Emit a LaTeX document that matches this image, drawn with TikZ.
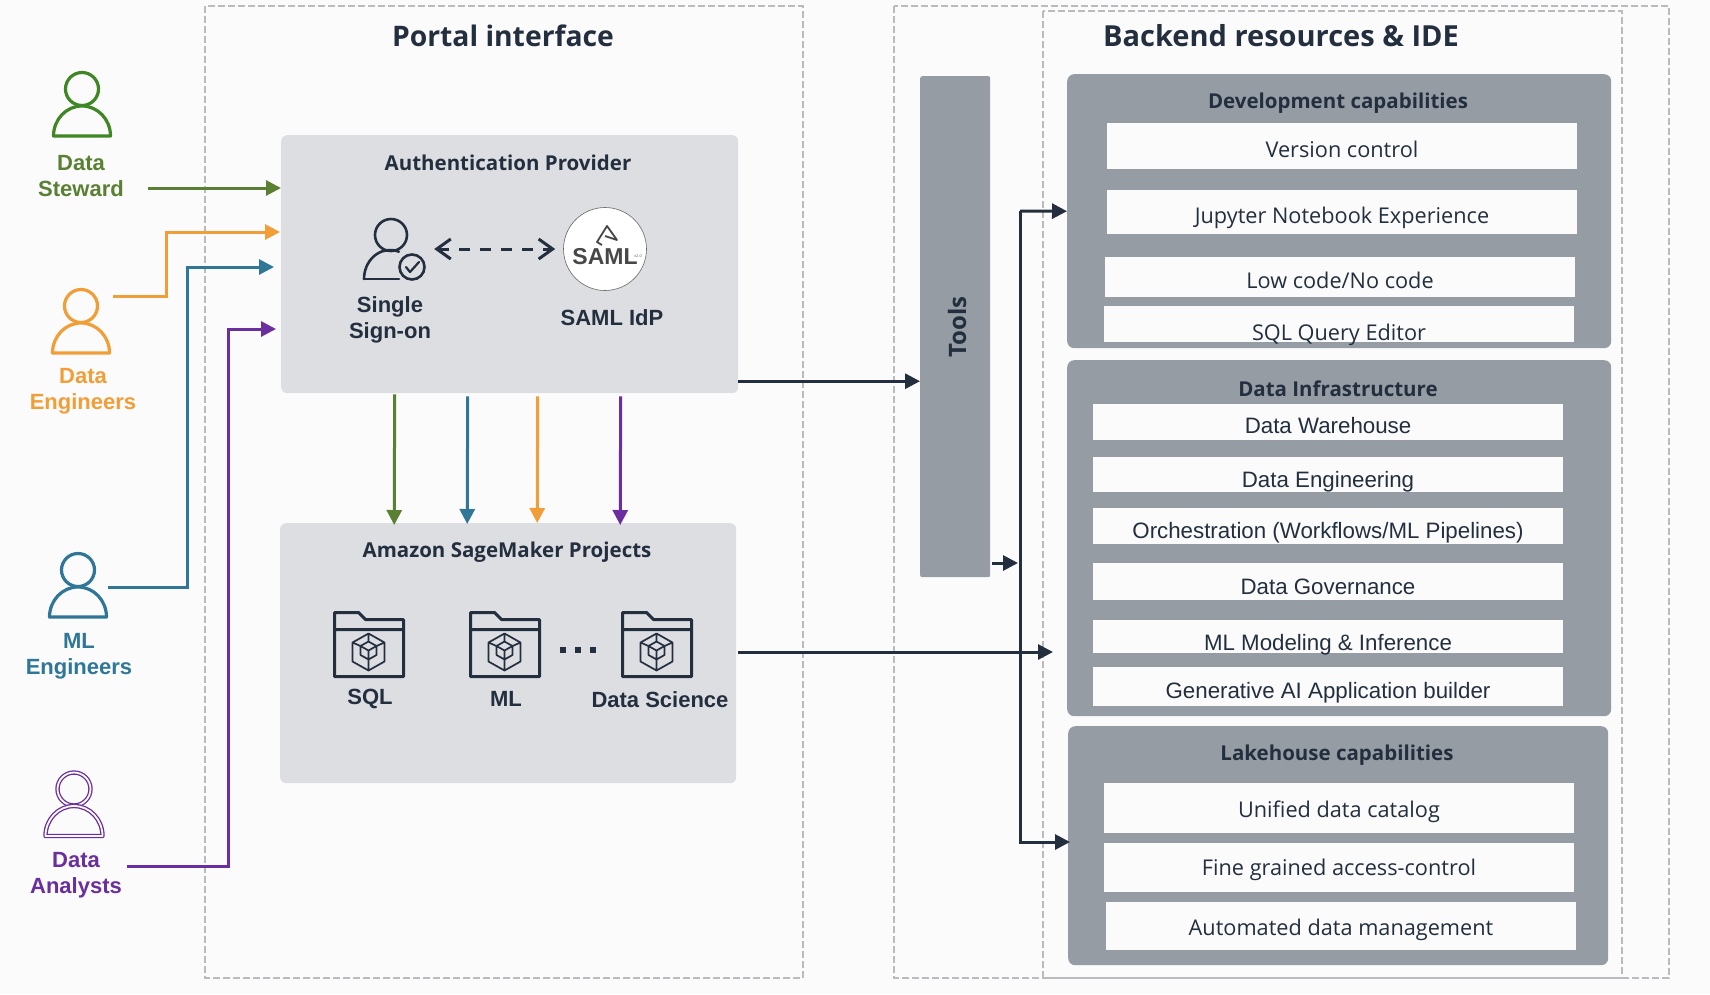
\documentclass[tikz,border=0pt]{standalone}
\usepackage{fontspec}
\setmainfont{Open Sans}
\newfontfamily\labelfont{Liberation Sans}
\usetikzlibrary{arrows.meta,positioning}
\definecolor{pagebg}{HTML}{FBFBFB}
\definecolor{inkdark}{HTML}{232F3E}
\definecolor{dashgray}{HTML}{B9BBBE}
\definecolor{softgray}{HTML}{DDDEE2}
\definecolor{slategray}{HTML}{969CA4}
\definecolor{stewardgreen}{HTML}{5A8033}
\definecolor{icongreen}{HTML}{3F8624}
\definecolor{iconorange}{HTML}{F29E38}
\definecolor{mlblue}{HTML}{2F7697}
\definecolor{analystpurple}{HTML}{6A2E9E}
\newcommand{\dropped}[2]{\raisebox{-#1pt}[0pt][0pt]{#2}}
\tikzset{
  zone/.style={draw=dashgray, line width=1.6pt, dash pattern=on 7pt off 3pt},
  panel/.style={rounded corners=6pt, fill=softgray, anchor=north west},
  slatepanel/.style={rounded corners=7pt, fill=slategray, anchor=north west},
  rowbox/.style={fill=pagebg, minimum width=470pt, font=\fontsize{21.7}{25}\selectfont, text=inkdark, inner sep=0pt},
  inforow/.style={rowbox, font=\labelfont\fontsize{22.3}{25}\selectfont},
  heading/.style={font=\fontsize{20.5}{25}\selectfont\bfseries, text=inkdark},
  bigtitle/.style={font=\fontsize{28.3}{36}\selectfont\bfseries, text=inkdark},
  tag/.style={font=\labelfont\fontsize{22}{26}\selectfont\bfseries, align=center},
  arrow/.style={-{Triangle[length=15pt,width=15pt]}, line width=3pt, draw=inkdark},
  personline/.style={line width=3.2pt},
  person/.pic={
    \draw[personline, line join=round] (0,-47) circle[radius=16.5pt];
    \draw[personline, line join=round] (-28.5,0) arc[start angle=180, end angle=0, x radius=28.5pt, y radius=30pt] -- cycle;
  },
  folder/.pic={
    \draw[inkdark, line width=3pt, line join=round] (0,64) -- (0,0) -- (24,0) -- (31,7) -- (69,7) -- (69,64) -- cycle (0,17) -- (69,17);
    \draw[inkdark, line width=1.7pt, line join=round] (34,21) -- (50,30) -- (50,49) -- (34,58) -- (18,49) -- (18,30) -- cycle
      (34,29) -- (42,33.5) -- (42,42.5) -- (34,47) -- (26,42.5) -- (26,33.5) -- cycle
      (34,38) -- (42,33.5) (34,38) -- (26,33.5) (34,38) -- (34,58) (34,21) -- (34,29) (50,30) -- (42,33.5) (18,30) -- (26,33.5);
  }
}
\begin{document}
\begin{tikzpicture}[x=1pt, y=-1pt]
  \fill[pagebg] (0,0) rectangle (1710,994);
  \useasboundingbox (0,0) rectangle (1710,994);
  % dashed zones
  \draw[zone] (205,6) rectangle (803,978);
  \draw[zone] (894,6) rectangle (1669,978);
  \draw[zone] (1043,11) rectangle (1622,978);
  \node[bigtitle] (portaltitle) at (503,36) {Portal interface};
  \node[bigtitle, font=\fontsize{29}{36}\selectfont\bfseries] (backendtitle) at (1281,36) {Backend resources \& IDE};
  % people
  \pic[icongreen] at (82,136) {person};
  \pic[iconorange] at (81,353) {person};
  \pic[mlblue] at (78,617) {person};
  \pic[analystpurple, personline/.style={line width=1.3pt, double=pagebg, double distance=1.8pt}] at (74,836) {person};
  \node[tag, text=stewardgreen] (steward) at (81,176) {Data\\Steward};
  \node[tag, text=iconorange] (engineers) at (83,391) {Data\\Engineers};
  \node[tag, text=mlblue] (mleng) at (79,656) {ML\\Engineers};
  \node[tag, text=analystpurple] (analysts) at (76,875) {Data\\Analysts};
  % left panels
  \node[panel, minimum width=457pt, minimum height=258pt] (auth) at (281,135) {};
  \node[panel, minimum width=456pt, minimum height=260pt] (sage) at (280,523) {};
  \node[heading] (authtitle) at (508,163) {Authentication Provider};
  \node[heading] (sagetitle) at (507,552) {Amazon SageMaker Projects};
  \node[minimum width=70pt, minimum height=80pt, inner sep=0pt] (ssoicon) at (399,249) {};
  \draw[inkdark, line width=2.6pt] (391,235) circle[radius=16pt];
  \draw[inkdark, line width=2.6pt, line cap=round] (364,279) arc[start angle=180, end angle=70, x radius=26pt, y radius=29pt];
  \draw[inkdark, line width=2.6pt, line cap=round] (364,279) -- (399,279);
  \draw[inkdark, line width=2.6pt] (412,267) circle[radius=12.5pt];
  \draw[inkdark, line width=2.2pt, line cap=round, line join=round] (406,267) -- (410,272) -- (419,262);
  \node[tag, text=inkdark] (sso) at (390,320) {Single\\Sign-on};
  \node[circle, fill=white, draw=black!60, line width=0.6pt, minimum size=83pt, inner sep=0pt] (saml) at (605,249) {};
  \node[font=\labelfont\fontsize{23}{25}\selectfont\bfseries, text=black!72, inner sep=0pt] (samltext) at (605,257) {SAML};
  \node[font=\labelfont\fontsize{4}{4}\selectfont, text=black!60, inner sep=0pt] (samlver) at (638,256) {v2.0};
  \draw[black!72, line width=1.8pt, line join=round] (602,245) -- (597,242) -- (607,226) -- (617,240) -- (605,236);
  \node[tag, text=inkdark] (samlidp) at (612,318) {SAML IdP};
  \draw[inkdark, line width=3pt, dash pattern=on 11pt off 10pt, {Straight Barb[length=14pt,width=20pt]}-{Straight Barb[length=14pt,width=20pt]}, shorten >=8pt] (ssoicon.east) -- (saml.west);
  % projects
  \foreach \fx/\fname in {334.5/sqlfolder, 470.5/mlfolder, 622.5/dsfolder}
    \pic (\fname) at (\fx,612.5) {folder};
  \foreach \dotx in {563,578,593}
    \fill[inkdark] (\dotx-3,647) rectangle (\dotx+3,653);
  \node[tag, text=inkdark] (sqltag) at (370,699) {SQL};
  \node[tag, text=inkdark] (mltag) at (506,699) {ML};
  \node[tag, text=inkdark] (dstag) at (660,700) {Data Science};
  % tools and backend panels
  \node[slatepanel, rounded corners=2pt, minimum width=70pt, minimum height=501pt] (tools) at (920,76) {};
  \node[rotate=90, font=\fontsize{24}{30}\selectfont\bfseries, text=inkdark] (toolstext) at (957,327) {Tools};
  \node[slatepanel, minimum width=544pt, minimum height=274pt] (dev) at (1067,74) {};
  \node[slatepanel, minimum width=544pt, minimum height=356pt] (infra) at (1067,360) {};
  \node[slatepanel, minimum width=540pt, minimum height=239pt] (lake) at (1068,726) {};
  \node[heading] (devtitle) at (1338,103) {Development capabilities};
  \node[heading] (infratitle) at (1338,389) {Data Infrastructure};
  \node[heading] (laketitle) at (1337,755) {Lakehouse capabilities};
  \node[rowbox, minimum height=46pt] (version) at (1342,146) {\dropped{11}{Version control}};
  \node[rowbox, minimum height=44pt] (jupyter) at (1342,212) {\dropped{11}{Jupyter Notebook Experience}};
  \node[rowbox, minimum height=40pt] (lowcode) at (1340,277) {\dropped{11}{Low code/No code}};
  \node[rowbox, minimum height=36pt] (sqledit) at (1339,324) {\dropped{16}{SQL Query Editor}};
  \foreach \rowy/\rowh/\rowdrop/\rowname/\rowtext in {
      422/36/11/warehouse/{Data Warehouse},
      474.5/35/12.5/dataeng/{Data Engineering},
      526/36/12/orchestration/{Orchestration (Workflows/ML Pipelines)},
      581.5/37/12.5/governance/{Data Governance},
      636.5/33/13.5/modeling/{ML Modeling \& Inference},
      686.5/39/11.5/genai/{Generative AI Application builder}}
    \node[inforow, minimum height=\rowh pt] (\rowname) at (1328,\rowy) {\dropped{\rowdrop}{\rowtext}};
  \node[rowbox, minimum height=50pt] (catalog) at (1339,808) {\dropped{9}{Unified data catalog}};
  \node[rowbox, minimum height=49pt] (access) at (1339,867) {\dropped{8}{Fine grained access-control}};
  \node[rowbox, minimum height=48pt] (automated) at (1341,926) {\dropped{9}{Automated data management}};
  % arrow ends
  \coordinate (stewardout) at (148,188);
  \coordinate (engout) at (113,296);
  \coordinate (engin) at (280,232);
  \coordinate (mlout) at (108,587);
  \coordinate (mlin) at (274,267);
  \coordinate (analystout) at (127,866);
  \coordinate (analystin) at (276,329);
  \coordinate (trunktop) at (1020,211);
  \coordinate (trunkbot) at (1020,842);
  \coordinate (lakein) at (1070,842);
  \coordinate (toolsout) at (992,563);
  \coordinate (sageout) at (738,652);
  \coordinate (infrain) at (1053,652);
  % connectors
  \draw[arrow, draw=stewardgreen, color=stewardgreen] (stewardout) -- (auth.west |- stewardout);
  \draw[arrow, draw=iconorange, color=iconorange] (engout) -- ++(53,0) |- (engin);
  \draw[arrow, draw=mlblue, color=mlblue] (mlout) -- ++(79,0) |- (mlin);
  \draw[arrow, draw=analystpurple, color=analystpurple] (analystout) -- ++(101,0) |- (analystin);
  \draw[arrow, draw=stewardgreen, color=stewardgreen] ([xshift=-115pt, yshift=-1pt]auth.south) -- ([xshift=-114pt, yshift=-2pt]sage.north);
  \draw[arrow, draw=mlblue, color=mlblue] ([xshift=-42pt, yshift=-3pt]auth.south) -- ([xshift=-41pt, yshift=-1pt]sage.north);
  \draw[arrow, draw=iconorange, color=iconorange] ([xshift=28pt, yshift=-3pt]auth.south) -- ([xshift=29pt, yshift=0pt]sage.north);
  \draw[arrow, draw=analystpurple, color=analystpurple] ([xshift=111pt, yshift=-3pt]auth.south) -- ([xshift=112pt, yshift=-2pt]sage.north);
  \draw[arrow, color=inkdark] ([yshift=-117pt]auth.east) -- ([yshift=-117pt]auth.east -| tools.west);
  \draw[arrow, color=inkdark] (toolsout) -- ([xshift=-2pt]trunktop |- toolsout);
  \draw[arrow, color=inkdark] (sageout) -- (infrain);
  \draw[arrow, color=inkdark] (trunktop) -- (dev.west);
  \draw[arrow, color=inkdark] (trunktop) -- (trunkbot) -- (lakein);
\end{tikzpicture}
\end{document}
